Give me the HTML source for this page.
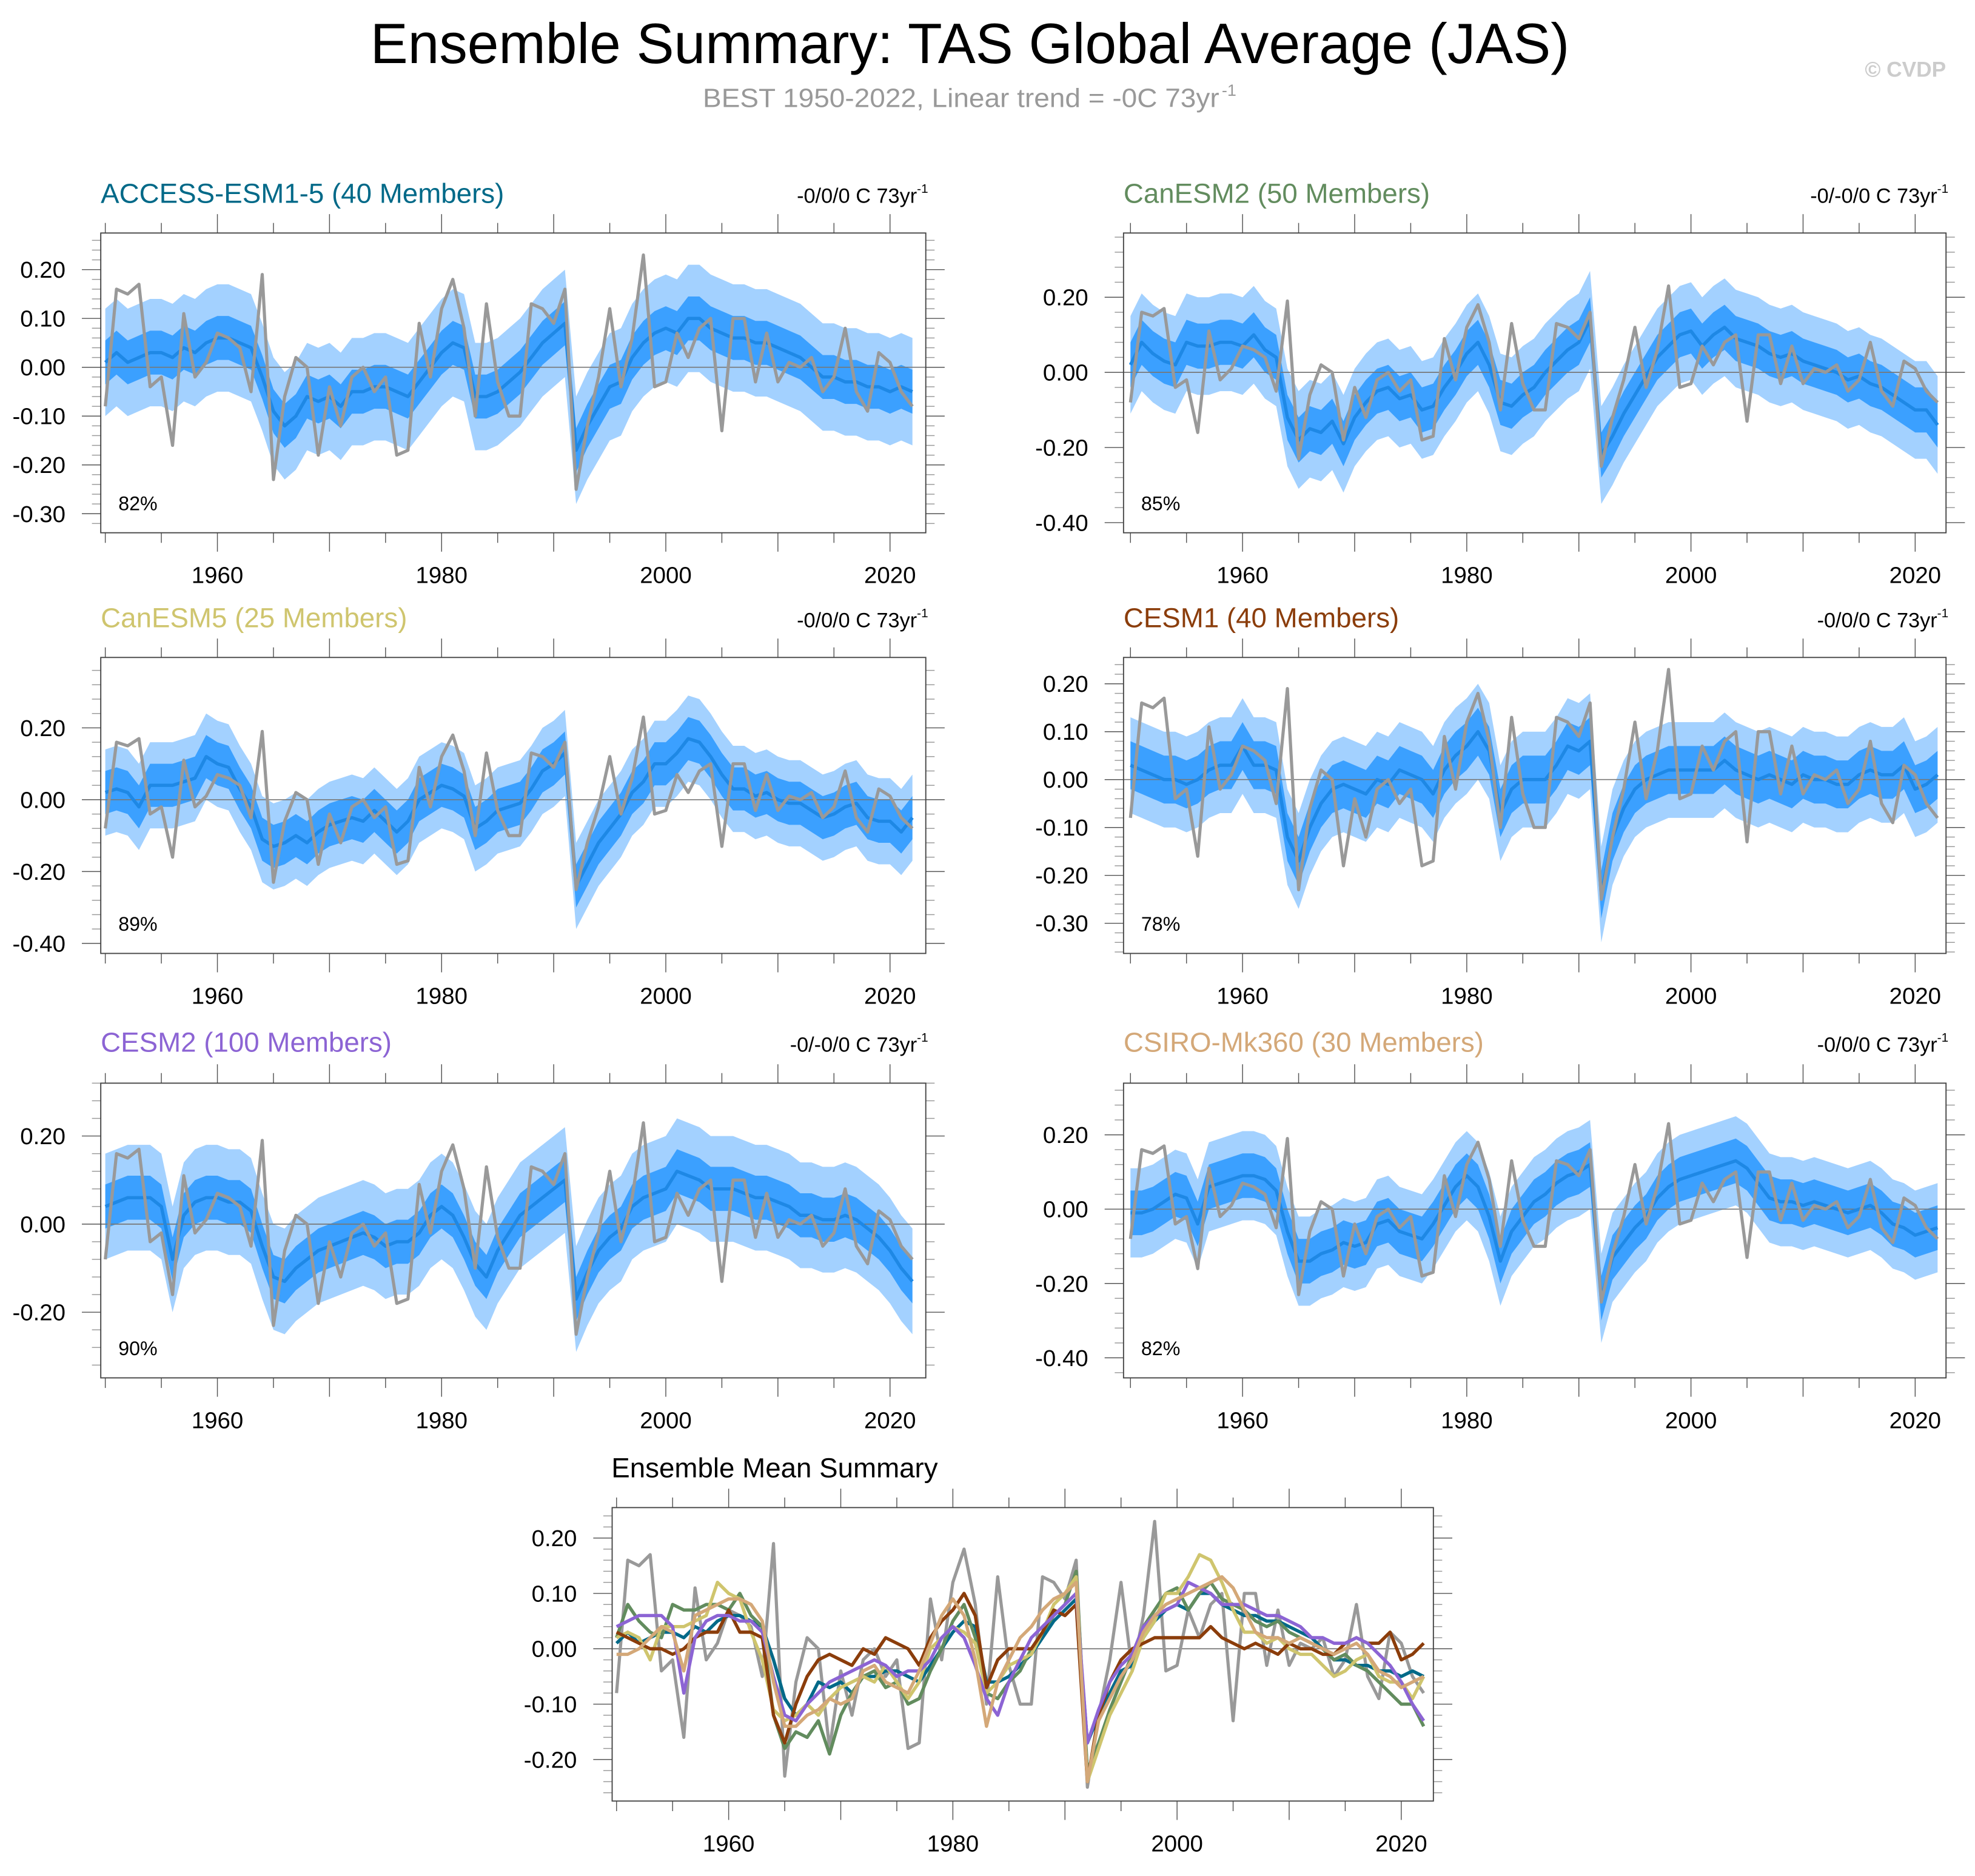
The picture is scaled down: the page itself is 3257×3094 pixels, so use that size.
<!DOCTYPE html>
<html><head><meta charset="utf-8">
<style>
html,body{margin:0;padding:0;background:#fff;}
svg{display:block;font-family:"Liberation Sans",Arial,sans-serif;}
</style></head>
<body>
<svg id="chart" xmlns="http://www.w3.org/2000/svg" width="3257" height="3094" viewBox="0 0 1568 1489.5">
<rect width="1568" height="1489.5" fill="#fff"/>
<text x="770" y="50" font-size="45" text-anchor="middle" fill="#000" textLength="952" lengthAdjust="spacingAndGlyphs">Ensemble Summary: TAS Global Average (JAS)</text>
<text x="558" y="85" font-size="21" fill="#999" textLength="410" lengthAdjust="spacingAndGlyphs">BEST 1950-2022, Linear trend = -0C 73yr</text>
<text x="970" y="76" font-size="13" fill="#999">-1</text>
<text x="1545" y="61" font-size="17" font-weight="bold" fill="#ccc" text-anchor="end">© CVDP</text>
<g id="panels"></g>
</svg>
<script>
const years = [];
for (let y = 1950; y <= 2022; y++) years.push(y);
const obsBEST = [-0.08,0.16,0.15,0.17,-0.04,-0.02,-0.16,0.11,-0.02,0.01,
 0.07,0.06,0.04,-0.05,0.19,-0.23,-0.06,0.02,0.00,-0.18,
 -0.04,-0.12,-0.02,0.00,-0.05,-0.02,-0.18,-0.17,0.09,-0.02,
 0.12,0.18,0.08,-0.10,0.13,-0.03,-0.10,-0.10,0.13,0.12,
 0.09,0.16,-0.25,-0.12,-0.02,0.12,-0.04,0.06,0.23,-0.04,
 -0.03,0.07,0.02,0.08,0.10,-0.13,0.10,0.10,-0.03,0.07,
 -0.03,0.01,0.00,0.02,-0.05,-0.02,0.08,-0.05,-0.09,0.03,
 0.01,-0.05,-0.08];
const meanACCESS = [0.01,0.03,0.01,0.02,0.03,0.03,0.02,0.04,0.03,0.05,
 0.06,0.06,0.05,0.04,-0.02,-0.09,-0.12,-0.10,-0.06,-0.07,
 -0.06,-0.08,-0.05,-0.05,-0.04,-0.04,-0.05,-0.06,-0.03,0.00,
 0.03,0.05,0.04,-0.06,-0.06,-0.05,-0.03,-0.01,0.02,0.05,
 0.07,0.09,-0.17,-0.12,-0.08,-0.04,-0.03,0.02,0.05,0.07,
 0.08,0.07,0.10,0.10,0.08,0.07,0.06,0.06,0.05,0.05,
 0.04,0.03,0.02,0.00,-0.02,-0.02,-0.03,-0.03,-0.04,-0.04,
 -0.05,-0.04,-0.05];
const meanCanESM2 = [0.02,0.08,0.05,0.03,0.02,0.08,0.07,0.07,0.08,0.08,
 0.07,0.10,0.06,0.04,-0.12,-0.18,-0.15,-0.16,-0.13,-0.19,
 -0.12,-0.08,-0.05,-0.04,-0.07,-0.06,-0.10,-0.09,-0.04,0.00,
 0.05,0.08,0.02,-0.08,-0.09,-0.06,-0.04,0.00,0.03,0.06,
 0.08,0.14,-0.22,-0.17,-0.11,-0.06,-0.01,0.04,0.07,0.10,
 0.11,0.07,0.10,0.12,0.09,0.08,0.07,0.05,0.04,0.05,
 0.03,0.02,0.01,0.00,-0.02,-0.01,-0.03,-0.04,-0.06,-0.08,
 -0.10,-0.10,-0.14];
const meanCanESM5 = [0.02,0.03,0.02,-0.02,0.04,0.04,0.04,0.05,0.06,0.12,
 0.10,0.09,0.03,-0.02,-0.11,-0.13,-0.12,-0.10,-0.12,-0.09,
 -0.07,-0.06,-0.05,-0.06,-0.03,-0.06,-0.09,-0.06,0.00,0.02,
 0.04,0.03,0.01,-0.08,-0.06,-0.03,-0.02,-0.01,0.03,0.08,
 0.10,0.13,-0.24,-0.18,-0.12,-0.08,-0.04,0.02,0.05,0.10,
 0.10,0.13,0.17,0.16,0.12,0.07,0.03,0.03,0.01,0.02,
 0.00,-0.01,-0.01,-0.03,-0.05,-0.04,-0.02,-0.01,-0.05,-0.06,
 -0.06,-0.09,-0.05];
const meanCESM1 = [0.03,0.02,0.01,0.00,0.00,-0.01,0.00,0.02,0.03,0.03,
 0.07,0.03,0.03,0.02,-0.12,-0.17,-0.10,-0.05,-0.02,-0.01,
 -0.02,-0.03,0.00,-0.01,0.02,0.01,0.00,-0.03,0.02,0.05,
 0.07,0.10,0.06,-0.07,-0.02,0.00,0.00,0.00,0.03,0.07,
 0.06,0.08,-0.24,-0.12,-0.06,-0.02,0.00,0.01,0.02,0.02,
 0.02,0.02,0.02,0.04,0.02,0.01,0.00,0.01,0.00,-0.01,
 0.01,0.00,0.00,-0.01,-0.01,0.01,0.02,0.01,0.01,0.03,
 -0.02,-0.01,0.01];
const meanCESM2 = [0.04,0.05,0.06,0.06,0.06,0.04,-0.08,0.02,0.05,0.06,
 0.06,0.05,0.05,0.03,-0.05,-0.12,-0.13,-0.10,-0.08,-0.06,
 -0.05,-0.04,-0.03,-0.02,-0.03,-0.05,-0.04,-0.04,-0.02,0.02,
 0.04,0.02,-0.03,-0.09,-0.12,-0.06,-0.02,0.02,0.04,0.06,
 0.08,0.10,-0.17,-0.11,-0.06,-0.03,-0.01,0.04,0.06,0.07,
 0.08,0.12,0.11,0.10,0.08,0.08,0.08,0.07,0.06,0.06,
 0.05,0.04,0.02,0.02,0.01,0.01,0.02,0.01,-0.01,-0.03,
 -0.06,-0.10,-0.13];
const meanCSIRO = [-0.01,-0.01,0.00,0.02,0.04,0.03,-0.04,0.06,0.07,0.08,
 0.09,0.09,0.08,0.05,-0.06,-0.14,-0.14,-0.12,-0.11,-0.09,
 -0.10,-0.09,-0.04,-0.03,-0.06,-0.07,-0.08,-0.04,0.01,0.06,
 0.09,0.06,-0.02,-0.14,-0.06,-0.02,0.02,0.04,0.07,0.09,
 0.10,0.12,-0.24,-0.13,-0.09,-0.05,-0.02,0.03,0.06,0.08,
 0.09,0.10,0.11,0.12,0.13,0.11,0.07,0.03,0.02,0.02,
 0.01,0.02,0.01,0.00,-0.01,0.00,0.01,-0.01,-0.04,-0.05,
 -0.07,-0.06,-0.05];
const innerSpread = [0.045,0.06,0.06,0.05,0.05,0.06];
const outerSpread = [0.11,0.13,0.12,0.10,0.12,0.12];
const modelNames = ["ACCESS-ESM1-5 (40 Members)","CanESM2 (50 Members)","CanESM5 (25 Members)","CESM1 (40 Members)","CESM2 (100 Members)","CSIRO-Mk360 (30 Members)"];
const trendLabels = ["-0/0/0 C 73yr","-0/-0/0 C 73yr","-0/0/0 C 73yr","-0/0/0 C 73yr","-0/-0/0 C 73yr","-0/0/0 C 73yr"];
const pctLabels = ["82%","85%","89%","78%","90%","82%"];
const yTicks1 = [0.2,0.1,0,-0.1,-0.2,-0.3];
const yTicks2 = [0.2,0,-0.2,-0.4];
const yTicksB = [0.2,0.1,0,-0.1,-0.2];
const xTickLabels = [1960,1980,2000,2020];

const NS = "http://www.w3.org/2000/svg";
const root = document.getElementById("panels");
const modelColors = ["#006988","#628C5E","#CFC56E","#8B3D0B","#8C64D4","#D4A878"];
const means = [meanACCESS,meanCanESM2,meanCanESM5,meanCESM1,meanCESM2,meanCSIRO];
function el(tag, attrs, parent){
  const e = document.createElementNS(NS, tag);
  for (const k in attrs) e.setAttribute(k, attrs[k]);
  (parent||root).appendChild(e);
  return e;
}
function fmt(v){ return (v<0?"-":"") + Math.abs(v).toFixed(2); }
function drawAxes(g, b, ymin, ymax, yt, minorStep, x0, ppy){
  const X = yr => x0 + (yr-1950)*ppy;
  const Y = v => b[3] - (v-ymin)/(ymax-ymin)*(b[3]-b[1]);
  for (let yr=1950; yr<=2020; yr+=5){
    const major = yr%10===0 && yr!==1950;
    const t1 = el("line",{x1:X(yr),x2:X(yr),y1:b[1],y2:b[1]-(major?15:8),stroke:"#555","stroke-width":0.7},g);
    
    
    const t2 = el("line",{x1:X(yr),x2:X(yr),y1:b[3],y2:b[3]+(major?15:8),stroke:"#555","stroke-width":0.7},g);
    
    
  }
  xTickLabels.forEach(yr=>{
    const t = el("text",{x:X(yr),y:b[3]+40,"font-size":18.5,"text-anchor":"middle",fill:"#000"},g);
    
    
    t.textContent = yr;
  });
  const start = Math.ceil(ymin/minorStep-1e-6);
  for (let i=start; i*minorStep<=ymax+1e-9; i++){
    const v = i*minorStep;
    const isMajor = yt.some(m=>Math.abs(m-v)<1e-6);
    const L = isMajor?15:7;
    const a = el("line",{x1:b[0],x2:b[0]-L,y1:Y(v),y2:Y(v),stroke:isMajor?"#555":"#999","stroke-width":0.7},g);
    
    
    const c = el("line",{x1:b[2],x2:b[2]+L,y1:Y(v),y2:Y(v),stroke:isMajor?"#555":"#999","stroke-width":0.7},g);
    
    
  }
  yt.forEach(v=>{
    const t = el("text",{x:b[0]-28,y:Y(v)+6.5,"font-size":18.5,"text-anchor":"end",fill:"#000"},g);
    
    
    t.textContent = fmt(v);
  });
  return {X,Y};
}
function poly(vals, X, Y){ return vals.map((v,i)=>X(years[i]).toFixed(2)+","+Y(v).toFixed(2)).join(" "); }

const panels = [
  {b:[80,185,735,423], ymin:-0.339, ymax:0.275, yt:yTicks1, minor:0.02, x0:83.6, ty:161},
  {b:[892,185,1545,423], ymin:-0.427, ymax:0.371, yt:yTicks2, minor:0.04, x0:897.5, ty:161},
  {b:[80,522,735,757], ymin:-0.428, ymax:0.396, yt:yTicks2, minor:0.04, x0:83.6, ty:498},
  {b:[892,522,1545,757], ymin:-0.363, ymax:0.255, yt:yTicks1, minor:0.02, x0:897.5, ty:498},
  {b:[80,860,735,1094], ymin:-0.349, ymax:0.32, yt:[0.2,0,-0.2], minor:0.04, x0:83.6, ty:835},
  {b:[892,860,1545,1094], ymin:-0.454, ymax:0.339, yt:yTicks2, minor:0.04, x0:897.5, ty:835}
];
panels.forEach((p,k)=>{
  const g = el("g",{});
  
  
  const b = p.b;
  const ax = drawAxes(g,b,p.ymin,p.ymax,p.yt,p.minor,p.x0,8.9);
  const m = means[k];
  const up2 = m.map(v=>v+outerSpread[k]), lo2 = m.map(v=>v-outerSpread[k]);
  const up1 = m.map(v=>v+innerSpread[k]), lo1 = m.map(v=>v-innerSpread[k]);
  const pts = (up, lo)=> up.map((v,i)=>ax.X(years[i])+","+ax.Y(v)).concat(lo.map((v,i)=>[ax.X(years[i]),ax.Y(v)]).reverse().map(a=>a[0]+","+a[1])).join(" ");
  const o = el("polygon",{points:pts(up2,lo2),fill:"#A3D1FF"},g);
  
  
  const inn = el("polygon",{points:pts(up1,lo1),fill:"#3BA0FF"},g);
  
  
  const z = el("line",{x1:b[0],x2:b[2],y1:ax.Y(0),y2:ax.Y(0),stroke:"#777","stroke-width":0.8},g);
  
  
  const ml = el("polyline",{points:poly(m,ax.X,ax.Y),fill:"none",stroke:"#1E88E5","stroke-width":2.6,"stroke-linejoin":"round"},g);
  
  
  const ob = el("polyline",{points:poly(obsBEST,ax.X,ax.Y),fill:"none",stroke:"#999","stroke-width":2.5,"stroke-linejoin":"round"},g);
  
  
  const fr = el("rect",{x:b[0],y:b[1],width:b[2]-b[0],height:b[3]-b[1],fill:"none",stroke:"#444","stroke-width":0.9},g);
  
  
  const t = el("text",{x:b[0],y:p.ty,"font-size":22,fill:modelColors[k]},g);
  
  
  t.textContent = modelNames[k];
  const tr = el("text",{x:b[2]-7,y:p.ty,"font-size":16.5,"text-anchor":"end",fill:"#000"},g);
  
  
  tr.textContent = trendLabels[k];
  const sup = el("text",{x:b[2]-7,y:p.ty-8,"font-size":10,fill:"#000"},g);
  
  
  sup.textContent = "-1";
  const pc = el("text",{x:b[0]+14,y:b[3]-18,"font-size":15.5,fill:"#000"},g);
  
  
  pc.textContent = pctLabels[k];
});
(function(){
  const g = el("g",{});
  
  
  const b = [486,1197,1138,1430];
  const ax = drawAxes(g,b,-0.275,0.255,yTicksB,0.02,489.5,8.9);
  const z = el("line",{x1:b[0],x2:b[2],y1:ax.Y(0),y2:ax.Y(0),stroke:"#777","stroke-width":0.8},g);
  
  
  const ob = el("polyline",{points:poly(obsBEST,ax.X,ax.Y),fill:"none",stroke:"#999","stroke-width":2.5,"stroke-linejoin":"round"},g);
  
  
  means.forEach((m,k)=>{
    const l = el("polyline",{points:poly(m,ax.X,ax.Y),fill:"none",stroke:modelColors[k],"stroke-width":2.6,"stroke-linejoin":"round"},g);
    
    
  });
  const fr = el("rect",{x:b[0],y:b[1],width:b[2]-b[0],height:b[3]-b[1],fill:"none",stroke:"#444","stroke-width":0.9},g);
  
  
  const t = el("text",{x:615,y:1173,"font-size":22,"text-anchor":"middle",fill:"#000"},g);
  
  
  t.textContent = "Ensemble Mean Summary";
})();
</script>
</body></html>
